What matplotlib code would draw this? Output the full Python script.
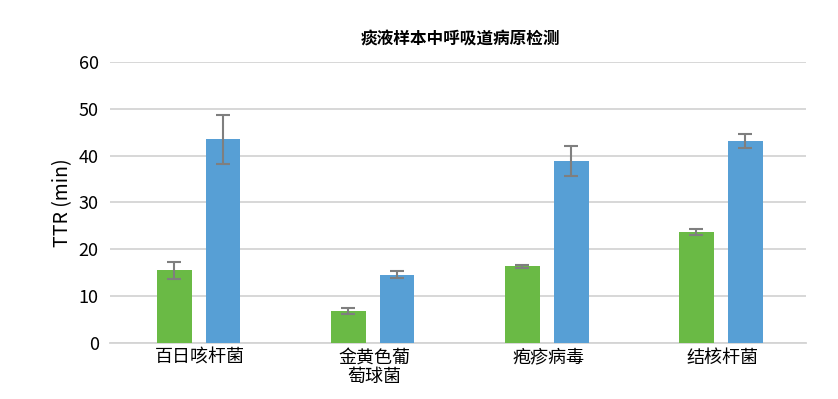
import numpy as np
import matplotlib
matplotlib.use('Agg')
import matplotlib.pyplot as plt

plt.rcParams['font.family'] = ['Noto Sans CJK SC', 'DejaVu Sans']

categories = ['百日咳杆菌', '金黄色葡\n萄球菌', '疱疹病毒', '结核杆菌']
green_vals = [15.5, 6.9, 16.4, 23.8]
green_err = [1.9, 0.65, 0.35, 0.65]
blue_vals = [43.5, 14.6, 38.9, 43.2]
blue_err = [5.2, 0.75, 3.2, 1.5]

fig = plt.figure(figsize=(8.38, 3.99), dpi=100)
ax = fig.add_axes([0.131, 0.140, 0.831, 0.705])

x = np.arange(len(categories))
w = 0.2
ekw = dict(ecolor='#7f7f7f', elinewidth=1.5, capsize=5, capthick=1.5)
ax.bar(x - 0.13, green_vals, w, color='#6aba45', yerr=green_err, error_kw=ekw, zorder=3)
ax.bar(x + 0.15, blue_vals, w, color='#579fd5', yerr=blue_err, error_kw=ekw, zorder=3)

ax.set_xlim(-0.5, 3.5)
ax.set_ylim(0, 60)
ax.set_yticks(range(0, 61, 10))
ax.set_xticks(x + 0.02)
ax.set_xticklabels(categories, fontsize=13, linespacing=1.1)
ax.tick_params(axis='y', labelsize=13, length=0, pad=8)
ax.tick_params(axis='x', length=0, pad=4)
ax.yaxis.grid(True, color='#d4d4d4', linewidth=1.3, zorder=0)
ax.set_axisbelow(True)
for s in ['top', 'right', 'left']:
    ax.spines[s].set_visible(False)
ax.spines['bottom'].set_color('#d4d4d4')
ax.spines['bottom'].set_linewidth(1.3)

ax.set_ylabel('TTR (min)', fontsize=14, labelpad=4)
fig.text(0.549, 0.90, '痰液样本中呼吸道病原检测', ha='center', va='center', fontsize=12, fontweight='bold')

fig.savefig('out.png', dpi=100)
